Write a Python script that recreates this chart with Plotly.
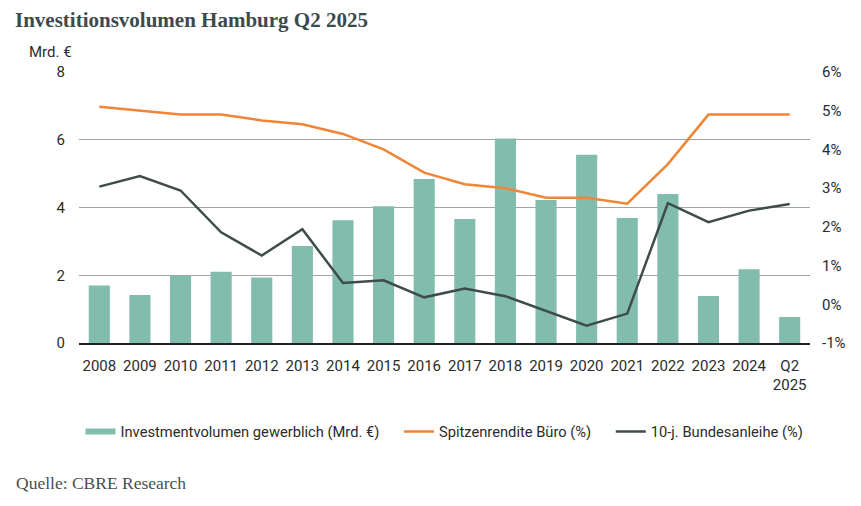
import plotly.graph_objects as go

categories = ["2008", "2009", "2010", "2011", "2012", "2013", "2014", "2015", "2016",
              "2017", "2018", "2019", "2020", "2021", "2022", "2023", "2024", "Q2<br>2025"]
investment = [1.70, 1.42, 1.99, 2.10, 1.93, 2.86, 3.62, 4.04, 4.84,
              3.66, 6.04, 4.22, 5.56, 3.69, 4.40, 1.39, 2.18, 0.77]
spitzenrendite = [5.10, 5.00, 4.90, 4.90, 4.75, 4.65, 4.40, 4.00, 3.40,
                  3.10, 3.00, 2.75, 2.75, 2.60, 3.62, 4.90, 4.90, 4.90]
bundesanleihe = [3.04, 3.31, 2.94, 1.86, 1.26, 1.94, 0.55, 0.62, 0.18,
                 0.41, 0.21, -0.18, -0.55, -0.24, 2.61, 2.12, 2.42, 2.59]

left_ticks = [0, 2, 4, 6, 8]
right_ticks = [-1, 0, 1, 2, 3, 4, 5, 6]

TEXT = "#2b2b2b"
FONT = "Roboto"
BAR = "#82bcad"
PAD = "\u00a0" * 4  # extra spacing between legend items

fig = go.Figure()
fig.add_trace(go.Bar(x=categories, y=investment, name="Investmentvolumen gewerblich (Mrd. €)",
                     marker=dict(color=BAR, line=dict(width=0)), showlegend=False))
# legend entry for bars drawn as a wide thin swatch, as in the original
fig.add_trace(go.Scatter(x=[None], y=[None], name="Investmentvolumen gewerblich (Mrd. €)" + PAD,
                         mode="lines", line=dict(color=BAR, width=6)))
fig.add_trace(go.Scatter(x=categories, y=spitzenrendite, name="Spitzenrendite Büro (%)" + PAD,
                         mode="lines", line=dict(color="#ef8535", width=2.5), yaxis="y2"))
fig.add_trace(go.Scatter(x=categories, y=bundesanleihe, name="10-j. Bundesanleihe (%)",
                         mode="lines", line=dict(color="#3e4d4c", width=2.5), yaxis="y2"))

fig.update_layout(
    width=861, height=506,
    margin=dict(l=79, r=51, t=72, b=163),
    paper_bgcolor="white", plot_bgcolor="white",
    bargap=0.48,
    font=dict(family=FONT, size=15, color=TEXT),
    xaxis=dict(showline=True, linecolor="#222", linewidth=1.5, ticks="",
               showgrid=False, tickfont=dict(size=15, color=TEXT), ticklabelstandoff=8),
    yaxis=dict(range=[0, 8], tickvals=left_ticks, showgrid=True, gridcolor="#a3a3a3",
               gridwidth=1, zeroline=False, ticks="", ticklabelstandoff=13,
               tickfont=dict(size=15, color=TEXT)),
    yaxis2=dict(range=[-1, 6], tickvals=right_ticks, ticktext=[f"{v}%" for v in right_ticks],
                overlaying="y", side="right", showgrid=False, zeroline=False, ticks="",
                ticklabelstandoff=11, tickfont=dict(size=15, color=TEXT)),
    legend=dict(orientation="h", x=0.5, xanchor="center", y=-0.328, yanchor="middle",
                font=dict(size=14.7, color=TEXT), traceorder="normal", itemwidth=30),
    showlegend=True,
    title=dict(text="<b>Investitionsvolumen Hamburg Q2 2025</b>", xref="container", yref="container",
               x=15/861, xanchor="left", y=1-19.5/506, yanchor="middle",
               font=dict(family="Liberation Serif", size=21, color="#3d4a4a")),
)

fig.add_annotation(text="Mrd. €", xref="paper", yref="paper", x=-5/731, y=(343-52.5)/271,
                   xanchor="right", yanchor="middle", showarrow=False,
                   font=dict(family=FONT, size=15, color=TEXT))
fig.add_annotation(text="Quelle: CBRE Research", xref="paper", yref="paper", x=(14-79)/731,
                   y=(343-483)/271, xanchor="left", yanchor="middle", showarrow=False,
                   font=dict(family="Liberation Serif", size=17.5, color="#4a4f4f"))

fig.write_html("out.html")
